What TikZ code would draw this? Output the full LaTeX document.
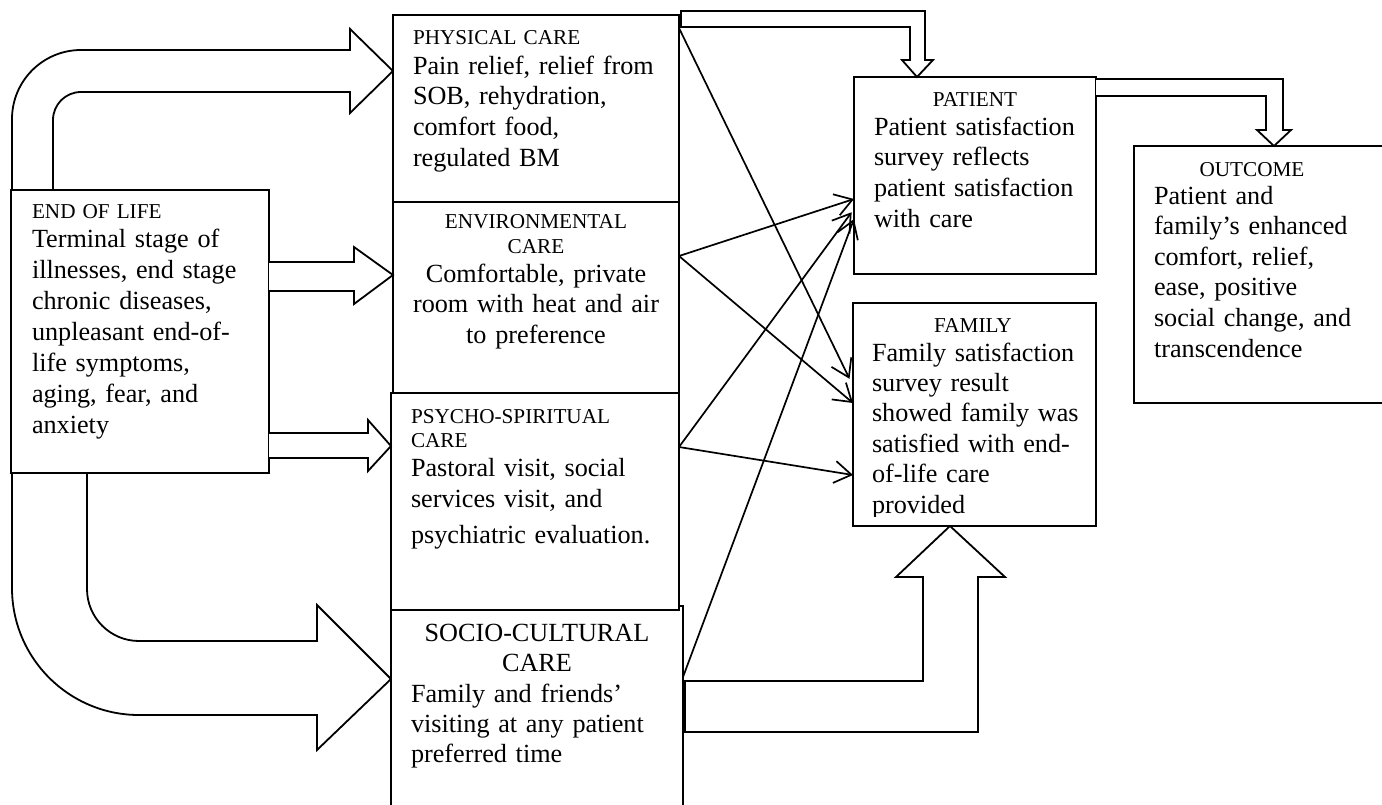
\documentclass[tikz,border=0pt]{standalone}
\usepackage{fontspec}
\setmainfont{Liberation Serif}
\usetikzlibrary{arrows.meta}
\newcommand\hdfont{\fontsize{21.2}{25}\selectfont}
\tikzset{
 box/.style={draw=none, fill=none, inner sep=0pt, outer sep=0pt, anchor=north west},
 frame/.style={line width=1.8pt, fill=white},
 blk/.style={draw, line width=1.8pt, fill=white, line join=miter},
 thinarr/.style={draw, line width=1.7pt, -{Straight Barb[length=17pt,width=22pt,line width=1.7pt]}},
 tl/.style={inner sep=0pt, outer sep=0pt, text width=#1, align=left, anchor=base west},
 tc/.style={inner sep=0pt, outer sep=0pt, text width=#1, align=center, anchor=base},
}
\begin{document}
\begin{tikzpicture}[x=1pt,y=-1pt]
\useasboundingbox (0,0) rectangle (1382,804);
\clip (0,0) rectangle (1382,804);
\fill[white] (0,0) rectangle (1382,804);

% box nodes
\path (11,190) node[box, minimum width=258pt, minimum height=283pt] (eol) {};
\path (393,15) node[box, minimum width=286pt, minimum height=187pt] (phys) {};
\path (393,202) node[box, minimum width=286pt, minimum height=191pt] (env) {};
\path (391,393) node[box, minimum width=288pt, minimum height=217pt] (psy) {};
\path (391,606) node[box, minimum width=292pt, minimum height=214pt] (soc) {};
\path (854,77) node[box, minimum width=242pt, minimum height=197pt] (pat) {};
\path (853,303) node[box, minimum width=243pt, minimum height=223pt] (fam) {};
\path (1134,146) node[box, minimum width=266pt, minimum height=257pt] (out) {};

% big curved block arrows from END OF LIFE to PHYSICAL CARE and SOCIO-CULTURAL CARE
\draw[blk, fill=none] (53,190) -- (53,120) .. controls (53,104.5) and (65.5,92) .. (81,92)
  -- (350,92) -- (350,113) -- (phys.west |- 0,71) -- (350,29) -- (350,50) -- (81,50)
  .. controls (42.9,50) and (12,80.9) .. (12,119) -- (12,588)
  .. controls (12,658.1) and (68.9,715) .. (139,715) -- (317,715) -- (317,750)
  -- (soc.west |- 0,679) -- (317,605) -- (317,641) -- (139,641)
  .. controls (110.3,641) and (87,617.7) .. (87,589) -- (87,473);

% box frames
\draw[frame] (eol.north west) rectangle (eol.south east);
\draw[frame] (soc.north west) rectangle (soc.south east);
\draw[frame] (phys.north west) rectangle (phys.south east);
\draw[frame] (env.north west) rectangle (env.south east);
\draw[frame] (psy.north west) rectangle (psy.south east);
\draw[frame] (pat.north west) rectangle (pat.south east);
\draw[frame] (fam.north west) rectangle (fam.south east);
\draw[frame] (out.north west) rectangle (out.south east);

% straight block arrows
\draw[blk] (eol.east |- 0,262) -- (354,262) -- (354,247) -- (env.west |- 0,275) -- (354,304) -- (354,291) -- (eol.east |- 0,291);
\draw[blk] (eol.east |- 0,433) -- (368,433) -- (368,420) -- (psy.west |- 0,446) -- (368,471) -- (368,458) -- (eol.east |- 0,458);

% bent block arrows
\draw[blk] (phys.east |- 0,27) ++(2,0) -- (910,27) -- (910,60) -- (902,60) -- (pat.north -| 917,0) -- (933,60) -- (925,60) -- (925,11) -- (681,11) -- cycle;
\draw[blk] (pat.east |- 0,79) -- (1283,79) -- (1283,130) -- (1291,130) -- (out.north -| 1274,0) -- (1257,130) -- (1266,130) -- (1266,96) -- (pat.east |- 0,96);
\draw[blk] (soc.east |- 0,681) ++(2,0) -- (923,681) -- (923,577) -- (896,577) -- (fam.south -| 950,0) -- (1005,577) -- (978,577) -- (978,732) -- (685,732) -- cycle;

% thin arrows
\draw[thinarr, shorten >=8pt] (phys.east |- 0,28) -- (fam.west |- 0,386);
\draw[thinarr] (env.east |- 0,256) -- (pat.west |- 0,199);
\draw[thinarr] (env.east |- 0,256) -- (fam.west |- 0,403);
\draw[thinarr, shorten >=4pt] (psy.east |- 0,447) -- (pat.west |- 0,209);
\draw[thinarr] (psy.east |- 0,447) -- (fam.west |- 0,475);
\draw[thinarr] (soc.east |- 0,677) -- (pat.west |- 0,219);

% texts
\node[tl=250pt, font=\hdfont] (eolh) at (32,218) {END OF LIFE};
\node[tl=250pt, font=\fontsize{26.2}{31}\selectfont] (eolb) at (32,247) {Terminal stage of\\illnesses, end stage\\chronic diseases,\\unpleasant end-of-\\life symptoms,\\aging, fear, and\\anxiety};

\node[tl=265pt, font=\hdfont] (physh) at (413,44) {PHYSICAL CARE};
\node[tl=265pt, font=\fontsize{26.2}{30.7}\selectfont] (physb) at (413,74) {Pain relief, relief from\\SOB, rehydration,\\comfort food,\\regulated BM};

\node[tc=280pt, font=\hdfont] (envh) at (536,228) {ENVIRONMENTAL\\CARE};
\node[tc=280pt, font=\fontsize{26.2}{30.5}\selectfont] (envb) at (536,282) {Comfortable, private\\room with heat and air\\to preference};

\node[tl=265pt, font=\fontsize{21.2}{24}\selectfont] (psyh) at (411,423) {PSYCHO-SPIRITUAL\\CARE};
\node[tl=265pt, font=\fontsize{26.2}{31}\selectfont] (psyb) at (411,476) {Pastoral visit, social\\services visit, and\\[5pt]psychiatric evaluation.};

\node[tc=285pt, font=\fontsize{26.2}{30}\selectfont] (soch) at (537,641) {SOCIO-CULTURAL\\CARE};
\node[tl=265pt, font=\fontsize{26.2}{30}\selectfont] (socb) at (411,702) {Family and friends’\\visiting at any patient\\preferred time};

\node[tc=235pt, font=\hdfont] (path) at (975,106) {PATIENT};
\node[tl=220pt, font=\fontsize{26.2}{30.7}\selectfont] (patb) at (874,135) {Patient satisfaction\\survey reflects\\patient satisfaction\\with care};

\node[tc=235pt, font=\hdfont] (famh) at (973,332) {FAMILY};
\begin{scope}
\clip (853,300) rectangle (1096,516);
\node[tl=220pt, font=\fontsize{26.2}{30.4}\selectfont] (famb) at (872,361) {Family satisfaction\\survey result\\showed family was\\satisfied with end-\\of-life care\\provided};
\end{scope}

\node[tc=235pt, font=\hdfont] (outh) at (1252,176) {OUTCOME};
\node[tl=225pt, font=\fontsize{26.2}{30.6}\selectfont] (outb) at (1154,204) {Patient and\\family’s enhanced\\comfort, relief,\\ease, positive\\social change, and\\transcendence};
\end{tikzpicture}
\end{document}
